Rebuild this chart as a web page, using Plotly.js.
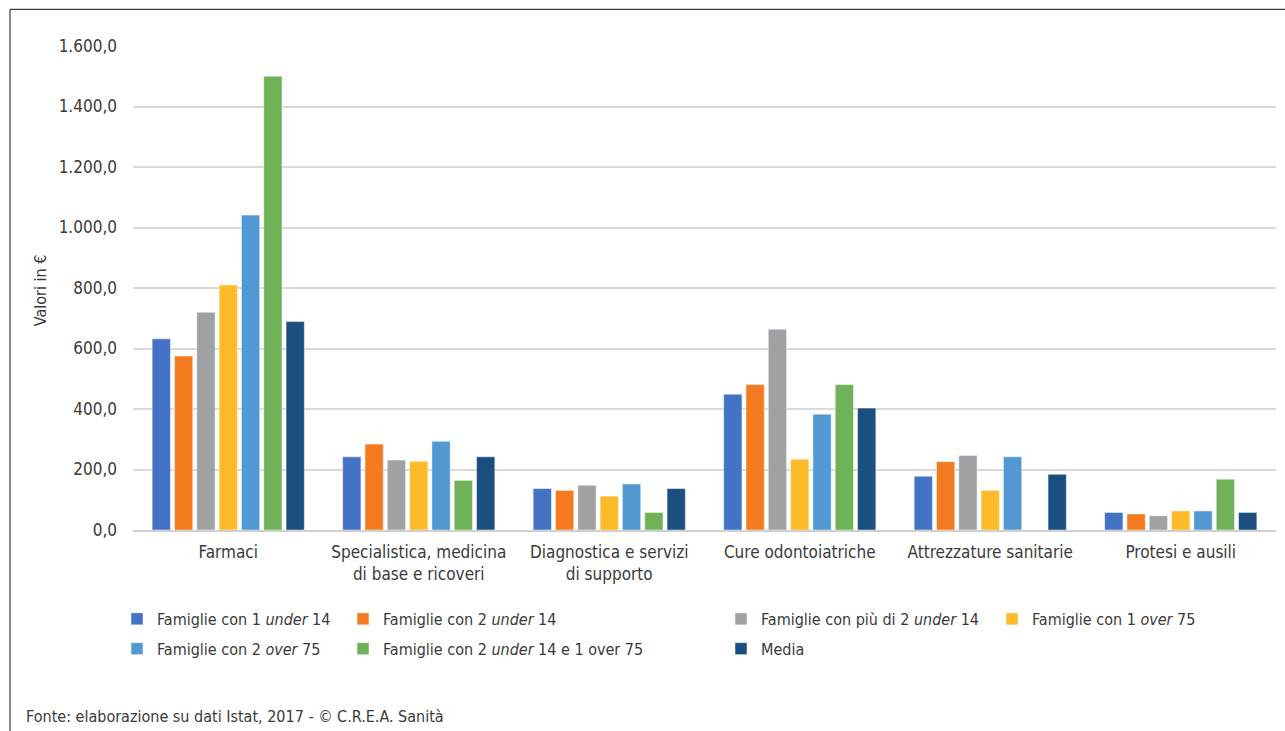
<!DOCTYPE html>
<html>
<head>
<meta charset="utf-8">
<script src="https://cdn.plot.ly/plotly-3.0.1.min.js"></script>
<style>html,body{margin:0;padding:0;background:#fff;}#chart{width:1285px;height:731px;}</style>
</head>
<body>
<div id="chart"></div>
<script>
const categories = ["Farmaci", "Specialistica, medicina<br>di base e ricoveri", "Diagnostica e servizi<br>di supporto", "Cure odontoiatriche", "Attrezzature sanitarie", "Protesi e ausili"];

const seriesNames = [
  "Famiglie con 1 <i>under</i> 14",
  "Famiglie con 2 <i>under</i> 14",
  "Famiglie con più di 2 <i>under</i> 14",
  "Famiglie con 1 <i>over</i> 75",
  "Famiglie con 2 <i>over</i> 75",
  "Famiglie con 2 <i>under</i> 14 e 1 over 75",
  "Media"
];

const con1Under14     = [632, 242, 137, 449, 178, 58];
const con2Under14     = [575, 284, 131, 481, 226, 53];
const piuDi2Under14   = [720, 231, 148, 664, 246, 47];
const con1Over75      = [810, 227, 112, 234, 131, 63];
const con2Over75      = [1041, 293, 152, 383, 242, 63];
const con2Under1Over  = [1500, 164, 58, 481, null, 168];
const media           = [689, 242, 137, 403, 184, 58];

const yTicks = [0, 200, 400, 600, 800, 1000, 1200, 1400, 1600];

const seriesValues = [con1Under14, con2Under14, piuDi2Under14, con1Over75, con2Over75, con2Under1Over, media];
const colors = ["#4472c4", "#f47b20", "#a0a1a5", "#fdbb2a", "#5299d3", "#70b257", "#1b4f80"];
const legendOf = ["legend", "legend2", "legend3", "legend4", "legend", "legend2", "legend3"];

const FONT = "'Liberation Sans Narrow', 'Arial Narrow', 'DejaVu Sans Condensed', sans-serif";
const TXT = "#3a3a3a";

const traces = seriesValues.map((vals, i) => ({
  type: "bar",
  name: seriesNames[i],
  x: categories,
  y: vals,
  marker: {color: colors[i], line: {color: "rgba(255,255,255,0.6)", width: 0.8}},
  legend: legendOf[i],
  legendgroup: "g" + i,
  hoverinfo: "y+name"
}));

// pixel helpers for paper coordinates
const L = 133, R = 1276, T = 45.7, B = 530;
const px = p => (p - L) / (R - L);
const py = p => (B - p) / (B - T);

const legendBase = {
  orientation: "v",
  xanchor: "left",
  yanchor: "top",
  font: {family: FONT, size: 16, color: TXT},
  bgcolor: "rgba(0,0,0,0)",
  borderwidth: 0,
  tracegroupgap: 6,
  itemclick: false,
  itemdoubleclick: false
};

const layout = {
  width: 1285,
  height: 731,
  margin: {l: L, r: 1285 - R, t: T, b: 731 - B, pad: 0},
  paper_bgcolor: "#ffffff",
  plot_bgcolor: "#ffffff",
  separators: ",.",
  barmode: "group",
  bargap: 0.18,
  bargroupgap: 0.18,
  font: {family: FONT, size: 16, color: TXT},
  xaxis: {
    type: "category",
    tickfont: {family: FONT, size: 17, color: TXT},
    showline: true,
    linecolor: "#d0d0d0",
    linewidth: 1.5,
    ticks: "",
    ticklabelstandoff: 6,
    showgrid: false,
    fixedrange: true
  },
  yaxis: {
    range: [0, 1600],
    tickvals: yTicks,
    tickformat: ",.1f",
    tickfont: {family: FONT, size: 17, color: TXT},
    showgrid: true,
    gridcolor: "#d9d9d9",
    gridwidth: 1.5,
    zeroline: false,
    showline: false,
    ticks: "",
    ticklabelstandoff: 15,
    fixedrange: true
  },
  legend:  Object.assign({}, legendBase, {x: px(117), y: py(602)}),
  legend2: Object.assign({}, legendBase, {x: px(343), y: py(602)}),
  legend3: Object.assign({}, legendBase, {x: px(721), y: py(602)}),
  legend4: Object.assign({}, legendBase, {x: px(992), y: py(602)}),
  annotations: [
    {
      text: "Valori in €",
      xref: "paper", yref: "paper",
      x: px(40), y: py(290),
      xanchor: "center", yanchor: "middle",
      textangle: -90,
      showarrow: false,
      font: {family: FONT, size: 16, color: TXT}
    },
    {
      text: "Fonte: elaborazione su dati Istat, 2017 - © C.R.E.A. Sanità",
      xref: "paper", yref: "paper",
      x: px(24), y: py(717),
      xanchor: "left", yanchor: "middle",
      showarrow: false,
      font: {family: FONT, size: 16, color: TXT}
    }
  ],
  shapes: [
    {type: "line", xref: "paper", yref: "paper", x0: px(10), x1: px(1290), y0: py(9), y1: py(9), line: {color: "#3c3c3c", width: 1.2}},
    {type: "line", xref: "paper", yref: "paper", x0: px(10), x1: px(10), y0: py(9), y1: py(735), line: {color: "#3c3c3c", width: 1.2}}
  ]
};

Plotly.newPlot("chart", traces, layout, {displayModeBar: false, staticPlot: false});
</script>
</body>
</html>
